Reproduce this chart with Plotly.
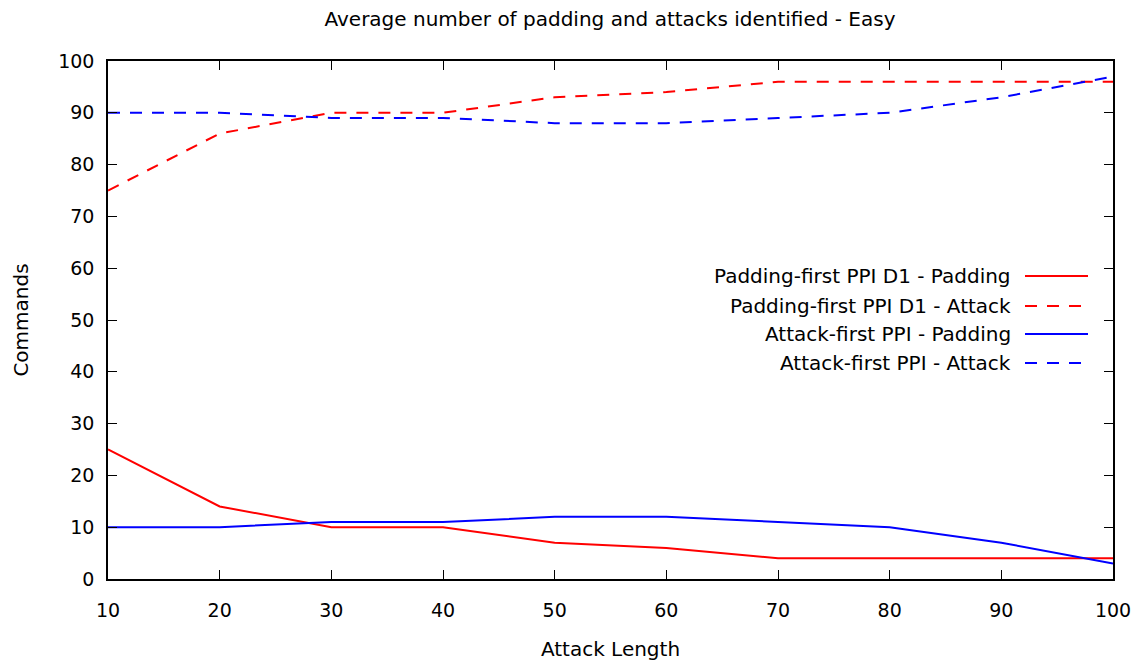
import plotly.graph_objects as go

attack_length = [10, 20, 30, 40, 50, 60, 70, 80, 90, 100]
pf_padding = [25, 14, 10, 10, 7, 6, 4, 4, 4, 4]
pf_attack = [75, 86, 90, 90, 93, 94, 96, 96, 96, 96]
af_padding = [10, 10, 11, 11, 12, 12, 11, 10, 7, 3]
af_attack = [90, 90, 89, 89, 88, 88, 89, 90, 93, 97]

DASH = "12px,10px"
series = [
    ("Padding-first PPI D1 - Padding", pf_padding, "#ff0000", "solid"),
    ("Padding-first PPI D1 - Attack", pf_attack, "#ff0000", DASH),
    ("Attack-first PPI - Padding", af_padding, "#0000ff", "solid"),
    ("Attack-first PPI - Attack", af_attack, "#0000ff", DASH),
]

FONT = "DejaVu Sans"
TXT = 20
TICK = 19
fig = go.Figure()
for name, ys, color, dash in series:
    fig.add_trace(go.Scatter(x=attack_length, y=ys, mode="lines", name=name,
                             line=dict(color=color, width=2, dash=dash),
                             showlegend=False))

W, H = 1147, 667
L, R, T, B = 108, 34, 61, 88
pw, ph = W - L - R, H - T - B

annotations = []
shapes = []
legend_rows = [276, 306, 334, 363]
for (name, ys, color, dash), ypx in zip(series, legend_rows):
    yp = 1 - (ypx - T) / ph
    annotations.append(dict(x=(1013 - L) / pw, y=yp, xref="paper", yref="paper",
                            text=name, showarrow=False, xanchor="right", yanchor="middle",
                            font=dict(family=FONT, size=TXT, color="#000000")))
    shapes.append(dict(type="line", xref="paper", yref="paper",
                       x0=(1025 - L) / pw, x1=(1088 - L) / pw, y0=yp, y1=yp,
                       line=dict(color=color, width=2, dash=dash)))

fig.update_layout(
    width=W, height=H,
    margin=dict(l=L, r=R, t=T, b=B),
    paper_bgcolor="white", plot_bgcolor="white",
    font=dict(family=FONT, size=TXT, color="#000000"),
    title=dict(text="Average number of padding and attacks identified - Easy",
               x=(319 + 901) / 2 / W, xanchor="center", y=1 - 19 / H, yanchor="middle",
               font=dict(family=FONT, size=TXT)),
    xaxis=dict(range=[10, 100], tickvals=attack_length, ticks="inside", ticklen=9,
               tickcolor="#000", showline=True, linecolor="#000", linewidth=1.5,
               mirror="ticks", showgrid=False, zeroline=False, automargin=False,
               tickfont=dict(size=TICK), ticklabelstandoff=13,
               title=dict(text="Attack Length", standoff=22, font=dict(size=TXT))),
    yaxis=dict(range=[0, 100], dtick=10, ticks="inside", ticklen=9,
               tickcolor="#000", showline=True, linecolor="#000", linewidth=1.5,
               mirror="ticks", showgrid=False, zeroline=False, automargin=False,
               tickfont=dict(size=TICK), ticklabelstandoff=8,
               title=dict(text="Commands", standoff=24, font=dict(size=TXT))),
    annotations=annotations, shapes=shapes,
)

fig.write_html("out.html")
